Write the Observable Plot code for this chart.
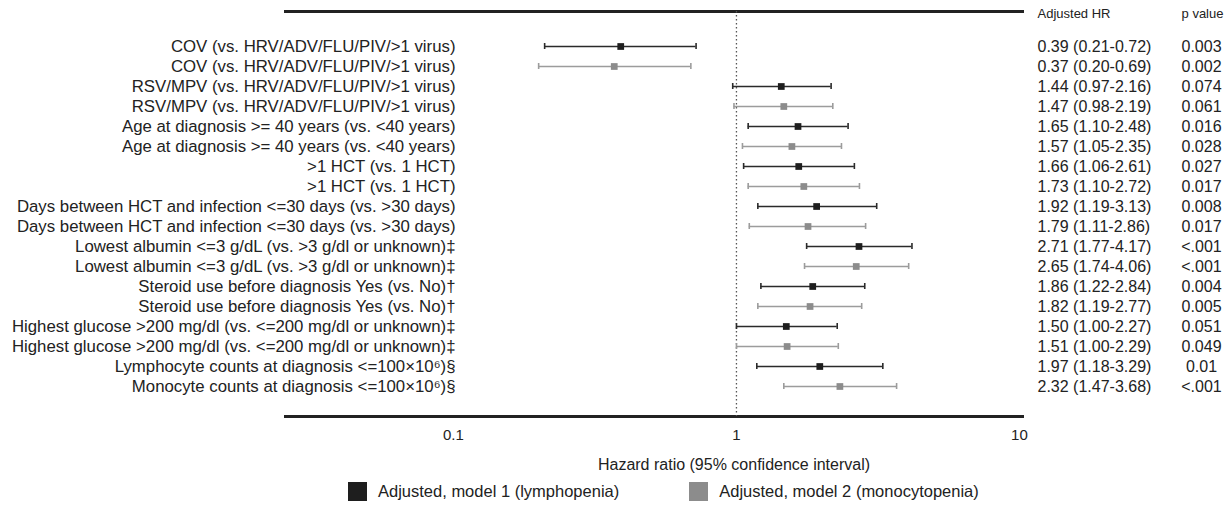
<!DOCTYPE html>
<html><head><meta charset="utf-8">
<script src="https://cdn.jsdelivr.net/npm/d3@7"></script>
<script src="https://cdn.jsdelivr.net/npm/@observablehq/plot@0.6"></script>
<style>
body{margin:0;background:#fff;font-family:"Liberation Sans",Arial,sans-serif;}
#legend{display:flex;align-items:center;height:34px;padding-left:348px;font-size:16.5px;color:#222}
.item{display:flex;align-items:center;margin-right:70px}
.sw{width:19px;height:19px;margin-right:11px}
</style></head><body><div id="chart"></div><div id="legend"></div>
<script>
const labels = [
  "COV (vs. HRV/ADV/FLU/PIV/>1 virus)",
  "COV (vs. HRV/ADV/FLU/PIV/>1 virus)",
  "RSV/MPV (vs. HRV/ADV/FLU/PIV/>1 virus)",
  "RSV/MPV (vs. HRV/ADV/FLU/PIV/>1 virus)",
  "Age at diagnosis >= 40 years (vs. <40 years)",
  "Age at diagnosis >= 40 years (vs. <40 years)",
  ">1 HCT (vs. 1 HCT)",
  ">1 HCT (vs. 1 HCT)",
  "Days between HCT and infection <=30 days (vs. >30 days)",
  "Days between HCT and infection <=30 days (vs. >30 days)",
  "Lowest albumin <=3 g/dL (vs. >3 g/dl or unknown)\u2021",
  "Lowest albumin <=3 g/dL (vs. >3 g/dl or unknown)\u2021",
  "Steroid use before diagnosis Yes (vs. No)\u2020",
  "Steroid use before diagnosis Yes (vs. No)\u2020",
  "Highest glucose >200 mg/dl (vs. <=200 mg/dl or unknown)\u2021",
  "Highest glucose >200 mg/dl (vs. <=200 mg/dl or unknown)\u2021",
  "Lymphocyte counts at diagnosis <=100\u00d710\u2076)\u00a7",
  "Monocyte counts at diagnosis <=100\u00d710\u2076)\u00a7"
];
const modelNames = ["Adjusted, model 1 (lymphopenia)", "Adjusted, model 2 (monocytopenia)"];
const models = [0,1,0,1,0,1,0,1,0,1,0,1,0,1,0,1,0,1];
const hr = [0.39,0.37,1.44,1.47,1.65,1.57,1.66,1.73,1.92,1.79,2.71,2.65,1.86,1.82,1.50,1.51,1.97,2.32];
const lo = [0.21,0.20,0.97,0.98,1.10,1.05,1.06,1.10,1.19,1.11,1.77,1.74,1.22,1.19,1.00,1.00,1.18,1.47];
const hi = [0.72,0.69,2.16,2.19,2.48,2.35,2.61,2.72,3.13,2.86,4.17,4.06,2.84,2.77,2.27,2.29,3.29,3.68];
const pvals = ["0.003","0.002","0.074","0.061","0.016","0.028","0.027","0.017","0.008","0.017","<.001","<.001","0.004","0.005","0.051","0.049","0.01","<.001"];
const xTicks = [0.1, 1, 10];
const colors = ["#1e1e1e", "#8c8c8c"];
const barColors = ["#2a2a2a", "#9c9c9c"];

const rows = labels.map((l, i) => ({
  i, label: l, model: models[i], hr: hr[i], lo: lo[i], hi: hi[i],
  hrText: `${hr[i].toFixed(2)} (${lo[i].toFixed(2)}-${hi[i].toFixed(2)})`,
  p: pvals[i]
}));

const W = 1230, H = 474;
const chart = Plot.plot({
  width: W, height: H,
  marginLeft: 285, marginRight: W - 1022, marginTop: 11, marginBottom: H - 416,
  x: {type: "log", domain: [0.0255, 10.25]},
  y: {type: "band", domain: d3.range(labels.length), range: [27, 404], padding: 0},
  style: {fontFamily: "'Liberation Sans', Arial, sans-serif", fontSize: "16px", color: "#222", background: "#fff"},
  marks: [
    Plot.frame({anchor: "top", stroke: "#222", strokeWidth: 3}),
    Plot.frame({anchor: "bottom", stroke: "#222", strokeWidth: 3}),
    Plot.ruleX([1], {stroke: "#555", strokeDasharray: "1.5,2.5", strokeWidth: 1.3}),
    Plot.ruleY(rows, {y: "i", x1: "lo", x2: "hi", stroke: d => barColors[d.model], strokeWidth: 1.6}),
    Plot.tickX(rows, {y: "i", x: "lo", stroke: d => barColors[d.model], strokeWidth: 1.6, insetTop: 7, insetBottom: 7}),
    Plot.tickX(rows, {y: "i", x: "hi", stroke: d => barColors[d.model], strokeWidth: 1.6, insetTop: 7, insetBottom: 7}),
    Plot.dot(rows, {x: "hr", y: "i", symbol: "square", r: 3.8, fill: d => colors[d.model], stroke: "none"}),
    Plot.axisY({tickSize: 0, tickPadding: -(455 - 285), tickFormat: i => labels[i], fontSize: 16.8, label: null}),
    Plot.axisX(xTicks, {tickSize: 0, tickPadding: 13, fontSize: 15, label: null, tickFormat: d => String(d)}),
    Plot.text(rows, {y: "i", text: "hrText", frameAnchor: "right", dx: 15, textAnchor: "start", fontSize: 16, fill: "#222"}),
    Plot.text(rows, {y: "i", text: "p", frameAnchor: "right", dx: 179, textAnchor: "middle", fontSize: 16, fill: "#222"}),
    Plot.text(["Adjusted HR"], {frameAnchor: "top-right", dx: 15, dy: 2, textAnchor: "start", lineAnchor: "middle", fontSize: 13, fill: "#222"}),
    Plot.text(["p value"], {frameAnchor: "top-right", dx: 180, dy: 2, textAnchor: "middle", lineAnchor: "middle", fontSize: 13, fill: "#222"}),
    Plot.text(["Hazard ratio (95% confidence interval)"], {frameAnchor: "bottom", dx: 80, dy: 48, lineAnchor: "middle", fontSize: 16, fill: "#222"})
  ]
});
document.getElementById("chart").appendChild(chart);

const legend = document.getElementById("legend");
modelNames.forEach((name, k) => {
  const item = document.createElement("div");
  item.className = "item";
  const sw = document.createElement("div");
  sw.className = "sw";
  sw.style.background = colors[k];
  const t = document.createElement("span");
  t.textContent = name;
  item.appendChild(sw); item.appendChild(t);
  legend.appendChild(item);
});
</script></body></html>
